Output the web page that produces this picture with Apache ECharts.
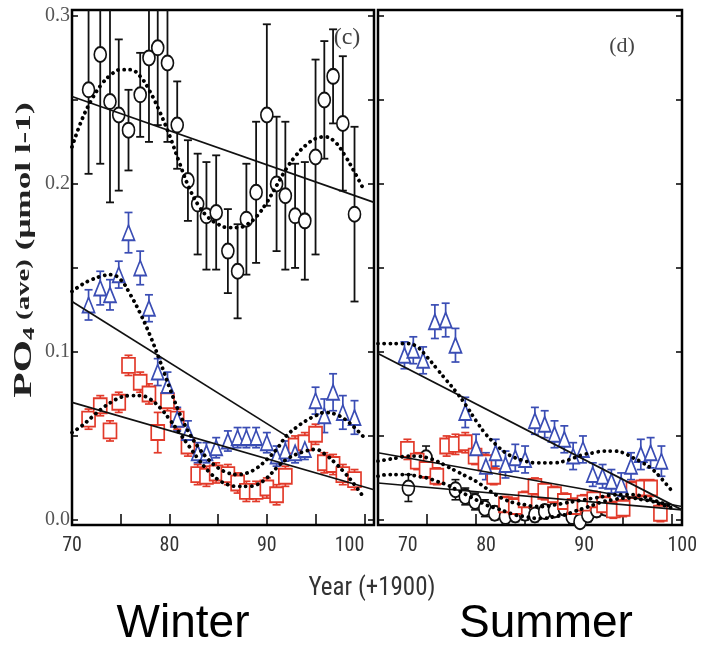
<!DOCTYPE html>
<html>
<head>
<meta charset="utf-8">
<script src="https://cdn.jsdelivr.net/npm/echarts@6/dist/echarts.min.js"></script>
<style>
html,body{margin:0;padding:0;background:#fff;}
#main{width:712px;height:648px;}
</style>
</head>
<body>
<div id="main"></div>
<script>
// ---------------- DATA ----------------
// Winter (panel c)
const winterYears = [71.7,72.9,73.9,74.8,75.8,77.0,77.9,78.8,79.8,80.8,81.9,82.9,83.8,84.8,86.0,87.0,87.9,88.9,90.0,91.0,91.9,92.9,93.9,95.0,95.9,96.8,97.8,99.0];
const winterBlack = [0.256,0.277,0.249,0.241,0.232,0.253,0.275,0.281,0.272,0.235,0.202,0.188,0.181,0.183,0.160,0.148,0.179,0.195,0.241,0.200,0.193,0.181,0.178,0.216,0.250,0.264,0.236,0.182];
const winterBlackErr = [0.050,0.065,0.060,0.045,0.024,0.025,0.050,0.046,0.047,0.026,0.024,0.030,0.032,0.034,0.025,0.028,0.033,0.042,0.054,0.040,0.044,0.031,0.035,0.058,0.035,0.028,0.040,0.052];
const winterBlue = [0.128,0.138,0.134,0.146,0.171,0.150,0.126,0.088,0.080,0.060,0.052,0.040,0.040,0.043,0.047,0.049,0.049,0.049,0.046,0.038,0.041,0.040,0.042,0.071,0.062,0.076,0.064,0.061];
const winterBlueErr = [0.009,0.010,0.009,0.008,0.012,0.010,0.008,0.008,0.008,0.007,0.007,0.006,0.006,0.006,0.006,0.006,0.006,0.006,0.006,0.006,0.006,0.006,0.006,0.008,0.010,0.011,0.010,0.010];
const winterRed = [0.060,0.068,0.053,0.070,0.092,0.082,0.075,0.052,0.071,0.060,0.044,0.027,0.026,0.028,0.027,0.022,0.017,0.017,0.019,0.015,0.026,0.044,0.046,0.051,0.034,0.033,0.027,0.024];
const winterRedErr = [0.006,0.006,0.006,0.006,0.006,0.006,0.006,0.012,0.006,0.006,0.006,0.006,0.006,0.006,0.006,0.006,0.006,0.006,0.006,0.006,0.006,0.006,0.006,0.006,0.006,0.006,0.006,0.006];

// fitted curves, sampled at years 70..100
const curveYears = [70,71,72,73,74,75,76,77,78,79,80,81,82,83,84,85,86,87,88,89,90,91,92,93,94,95,96,97,98,99,100];
const winterBlackCurve = [0.222,0.238,0.250,0.259,0.265,0.268,0.268,0.264,0.255,0.243,0.229,0.213,0.198,0.187,0.180,0.176,0.174,0.174,0.176,0.181,0.189,0.199,0.209,0.217,0.223,0.227,0.228,0.225,0.217,0.207,0.196];
const winterBlueCurve = [0.136,0.140,0.143,0.145,0.146,0.143,0.134,0.123,0.110,0.095,0.079,0.064,0.052,0.043,0.036,0.031,0.028,0.027,0.028,0.031,0.036,0.042,0.050,0.055,0.059,0.062,0.064,0.063,0.060,0.055,0.049];
const winterRedCurve = [0.052,0.056,0.061,0.066,0.070,0.073,0.074,0.074,0.072,0.067,0.060,0.052,0.044,0.036,0.029,0.024,0.021,0.020,0.020,0.021,0.025,0.031,0.036,0.039,0.041,0.042,0.039,0.034,0.028,0.021,0.013];

// linear trends [year, value] end points
const winterBlackTrend = [[70,0.252],[101,0.189]];
const winterBlueTrend = [[70,0.130],[92.3,0.049]];
const winterRedTrend = [[70,0.070],[101,0.018]];

// Summer (panel d)
const summerBlueYears = [72.7,73.6,74.6,75.8,76.9,77.9,78.9,80.0,81.0,82.0,83.0,84.0,85.0,86.0,87.0,88.0,89.0,89.9,90.9,91.9,92.9,93.8,94.8,95.8,96.8,97.8,98.9];
const summerBlue = [0.098,0.101,0.095,0.118,0.119,0.104,0.064,0.043,0.032,0.040,0.033,0.037,0.036,0.059,0.057,0.051,0.048,0.038,0.042,0.027,0.026,0.023,0.021,0.032,0.039,0.040,0.035];
const summerBlueErr = [0.008,0.008,0.008,0.010,0.010,0.010,0.009,0.008,0.008,0.008,0.008,0.008,0.008,0.008,0.008,0.008,0.008,0.008,0.008,0.007,0.007,0.007,0.007,0.008,0.009,0.009,0.009];
const summerRedYears = [73.0,74.0,74.9,76.0,77.0,77.9,78.9,79.9,80.9,81.8,83.0,84.0,85.0,86.0,87.0,88.0,89.0,90.0,91.0,92.0,93.0,94.0,95.0,96.0,97.0,97.8,98.8];
const summerRed = [0.042,0.035,0.030,0.026,0.044,0.045,0.046,0.038,0.034,0.026,0.009,0.008,0.012,0.020,0.017,0.015,0.011,0.008,0.010,0.012,0.009,0.006,0.007,0.018,0.019,0.019,0.004];
const summerRedErr = [0.006,0.005,0.005,0.005,0.006,0.006,0.006,0.005,0.005,0.005,0.005,0.005,0.005,0.005,0.005,0.005,0.005,0.005,0.005,0.005,0.005,0.005,0.005,0.005,0.005,0.005,0.005];
const summerBlackYears = [73.1,74.9,77.9,78.9,79.9,80.9,81.9,83.0,84.0,85.0,86.0,87.0,88.0,89.0,89.8,90.6,91.4,92.3,93.2];
const summerBlack = [0.019,0.037,0.018,0.014,0.011,0.007,0.004,0.002,0.003,0.004,0.003,0.005,0.006,0.007,0.002,-0.001,0.003,0.006,0.007];
const summerBlackErr = [0.008,0.007,0.006,0.005,0.005,0.005,0.004,0.004,0.004,0.004,0.004,0.004,0.004,0.004,0.004,0.004,0.004,0.004,0.004];

const summerBlueCurve = [0.105,0.105,0.105,0.105,0.103,0.097,0.090,0.083,0.076,0.068,0.059,0.051,0.045,0.040,0.037,0.035,0.034,0.034,0.034,0.035,0.037,0.039,0.040,0.041,0.041,0.040,0.037,0.034,0.030,0.024,0.017];
const summerRedCurve = [0.035,0.036,0.037,0.038,0.038,0.037,0.035,0.032,0.029,0.026,0.023,0.019,0.015,0.012,0.010,0.009,0.008,0.008,0.009,0.010,0.011,0.012,0.013,0.014,0.015,0.015,0.015,0.014,0.012,0.010,0.008];
const summerBlackCurve = [0.026,0.027,0.027,0.027,0.026,0.025,0.023,0.021,0.018,0.015,0.012,0.009,0.007,0.005,0.003,0.002,0.001,0.001,0.002,0.003,0.005,0.007,0.009,0.011,0.012,0.013,0.013,0.012,0.011,0.009,0.007];

const summerBlueTrend = [[70,0.099],[101,0.006]];
const summerRedTrend = [[70,0.040],[101,0.008]];
const summerBlackTrend = [[70,0.022],[101,0.006]];

// axis ticks / labels
const xTickValues = [75,80,85,90,95,100];
const xLabelValues = [70,80,90,100];
const yTickValues = [0,0.05,0.1,0.15,0.2,0.25,0.3];
const yLabelValues = [0,0.1,0.2,0.3];

const panelLabels = ['(c)','(d)'];
const seasonLabels = ['Winter','Summer'];
const xAxisTitle = 'Year (+1900)';

// ---------------- STYLE ----------------
const BLACK = '#111';
const BLUE = '#3a4db4';
const RED = '#e23a2a';
const NARROW = "'Liberation Sans Narrow','Arial Narrow','Roboto Condensed','Liberation Sans',sans-serif";
const SERIF = "'Liberation Serif','Times New Roman','DejaVu Serif',serif";

const chart = echarts.init(document.getElementById('main'), null, {renderer:'canvas'});

function zip3(xs, ys, es){ return xs.map((x,i)=>[x, ys[i], es[i]]); }
function zip2(xs, ys){ return xs.map((x,i)=>[x, ys[i]]); }

function errRender(color, capW, lw){
  return function(params, api){
    const x = api.value(0), y = api.value(1), e = api.value(2);
    const cs = params.coordSys;
    const top = api.coord([x, y+e]);
    const bot = api.coord([x, y-e]);
    const yMin = cs.y, yMax = cs.y + cs.height;
    const t = Math.max(yMin, Math.min(yMax, top[1]));
    const b = Math.max(yMin, Math.min(yMax, bot[1]));
    const st = {stroke: color, lineWidth: lw};
    const ch = [{type:'line', shape:{x1:top[0], y1:t, x2:top[0], y2:b}, style:st}];
    if (top[1] >= yMin) ch.push({type:'line', shape:{x1:top[0]-capW/2, y1:top[1], x2:top[0]+capW/2, y2:top[1]}, style:st});
    if (bot[1] <= yMax) ch.push({type:'line', shape:{x1:bot[0]-capW/2, y1:bot[1], x2:bot[0]+capW/2, y2:bot[1]}, style:st});
    return {type:'group', children: ch};
  };
}

function errSeries(ax, data, color, capW, lw){
  return {type:'custom', xAxisIndex:ax, yAxisIndex:ax, data:data, encode:{x:0,y:1},
    renderItem: errRender(color, capW, lw), z:2, silent:true};
}
function markSeries(ax, data, symbol, size, color){
  return {type:'scatter', xAxisIndex:ax, yAxisIndex:ax, data:data, symbol:symbol, symbolSize:size,
    itemStyle:{color:'#fff', borderColor:color, borderWidth:1.8, opacity:1}, z:3, silent:true, clip:true};
}
function trendSeries(ax, data){
  return {type:'line', xAxisIndex:ax, yAxisIndex:ax, data:data, showSymbol:false, symbol:'none',
    lineStyle:{color:BLACK, width:1.7}, z:4, silent:true, clip:true};
}
function curveSeries(ax, data){
  return {type:'line', xAxisIndex:ax, yAxisIndex:ax, data:data, showSymbol:false, symbol:'none', smooth:0.4,
    lineStyle:{color:'#000', width:3.8, type:[0.1,6], cap:'round'}, z:5, silent:true, clip:true};
}

function xAxes(grid, isLeft){
  const base = {type:'value', gridIndex:grid, min:70, max:101, splitLine:{show:false}, axisLine:{show:false}};
  return [
    Object.assign({}, base, {position:'bottom',
      axisTick:{show:true, inside:true, length:6, lineStyle:{color:'#000', width:1.5}, customValues:xTickValues},
      axisLabel:{show:true, customValues:xLabelValues, color:'#333', fontSize:20, fontFamily:NARROW, margin:11,
        alignMinLabel: isLeft ? 'center' : 'left', alignMaxLabel: isLeft ? 'right' : 'center',
        padding: isLeft ? 0 : [0,0,0,20]}}),
    Object.assign({}, base, {position:'top',
      axisTick:{show:true, inside:true, length:6, lineStyle:{color:'#000', width:1.5}, customValues:xTickValues},
      axisLabel:{show:false}})
  ];
}
function yAxes(grid, isLeft){
  const base = {type:'value', gridIndex:grid, min:-0.003, max:0.3035, splitLine:{show:false}, axisLine:{show:false}};
  return [
    Object.assign({}, base, {position:'left',
      axisTick:{show:true, inside:true, length:6, lineStyle:{color:'#000', width:1.5}, customValues:yTickValues},
      axisLabel:{show:isLeft, customValues:yLabelValues, formatter:v=>Number(v).toFixed(1), color:'#555', fontSize:20, fontFamily:SERIF, margin:2}}),
    Object.assign({}, base, {position:'right',
      axisTick:{show:true, inside:true, length:6, lineStyle:{color:'#000', width:1.5}, customValues:yTickValues},
      axisLabel:{show:false}})
  ];
}

const option = {
  animation:false,
  backgroundColor:'#fff',
  grid:[
    {left:72, top:10, width:302, height:515, show:true, borderColor:'#000', borderWidth:2.5, backgroundColor:'#fff'},
    {left:378, top:10, width:304, height:515, show:true, borderColor:'#000', borderWidth:2.5, backgroundColor:'#fff'}
  ],
  xAxis:[...xAxes(0,true), ...xAxes(1,false)],
  yAxis:[...yAxes(0,true), ...yAxes(1,false)],
  series:[
    // winter
    errSeries(0, zip3(winterYears, winterBlack, winterBlackErr), BLACK, 8, 1.8),
    errSeries(0, zip3(winterYears, winterBlue, winterBlueErr), BLUE, 8, 1.7),
    errSeries(0, zip3(winterYears, winterRed, winterRedErr), RED, 8, 1.7),
    markSeries(0, zip2(winterYears, winterBlack), 'circle', [12,15], BLACK),
    markSeries(0, zip2(winterYears, winterRed), 'rect', [13,15], RED),
    markSeries(0, zip2(winterYears, winterBlue), 'triangle', [12,15], BLUE),
    trendSeries(0, winterBlackTrend),
    trendSeries(0, winterBlueTrend),
    trendSeries(0, winterRedTrend),
    curveSeries(0, zip2(curveYears, winterBlackCurve)),
    curveSeries(0, zip2(curveYears, winterBlueCurve)),
    curveSeries(0, zip2(curveYears, winterRedCurve)),
    // summer (grid 1 -> axes index 2)
    errSeries(2, zip3(summerBlackYears, summerBlack, summerBlackErr), BLACK, 8, 1.6),
    errSeries(2, zip3(summerBlueYears, summerBlue, summerBlueErr), BLUE, 8, 1.7),
    errSeries(2, zip3(summerRedYears, summerRed, summerRedErr), RED, 8, 1.7),
    markSeries(2, zip2(summerBlackYears, summerBlack), 'circle', [12,15], BLACK),
    markSeries(2, zip2(summerRedYears, summerRed), 'rect', [13,15], RED),
    markSeries(2, zip2(summerBlueYears, summerBlue), 'triangle', [12,15], BLUE),
    trendSeries(2, summerBlueTrend),
    trendSeries(2, summerRedTrend),
    trendSeries(2, summerBlackTrend),
    curveSeries(2, zip2(curveYears, summerBlueCurve)),
    curveSeries(2, zip2(curveYears, summerRedCurve)),
    curveSeries(2, zip2(curveYears, summerBlackCurve))
  ],
  graphic:[
    {type:'text', x:347, y:38, z:10, style:{text:panelLabels[0], font:"24px "+SERIF, fill:'#444', align:'center', verticalAlign:'middle'}},
    {type:'text', x:622, y:46, z:10, style:{text:panelLabels[1], font:"22px "+SERIF, fill:'#444', align:'center', verticalAlign:'middle'}},
    {type:'text', x:372, y:589, z:10, style:{text:xAxisTitle, font:"25px "+NARROW, fill:'#333', align:'center', verticalAlign:'middle'}},
    {type:'text', x:183, y:624, z:10, style:{text:seasonLabels[0], font:"46px 'Liberation Sans',Arial,sans-serif", fill:'#000', align:'center', verticalAlign:'middle'}},
    {type:'text', x:546, y:624, z:10, style:{text:seasonLabels[1], font:"46px 'Liberation Sans',Arial,sans-serif", fill:'#000', align:'center', verticalAlign:'middle'}},
    {type:'text', x:24, y:250, rotation:Math.PI/2, scaleX:1.6, z:10,
      style:{text:'{a|PO}{b|4}{c| (ave)}{d| (μmol l-1)}', align:'center', verticalAlign:'middle', fill:'#222',
        rich:{
          a:{fontSize:26, fontWeight:'bold', fontFamily:SERIF, fill:'#222', verticalAlign:'middle'},
          b:{fontSize:16, fontWeight:'bold', fontFamily:SERIF, fill:'#222', padding:[12,0,0,0], verticalAlign:'middle'},
          c:{fontSize:18, fontWeight:'bold', fontFamily:SERIF, fill:'#222', verticalAlign:'middle'},
          d:{fontSize:22, fontWeight:'bold', fontFamily:SERIF, fill:'#222', verticalAlign:'middle'}
        }}}
  ]
};
chart.setOption(option);
</script>
</body>
</html>
